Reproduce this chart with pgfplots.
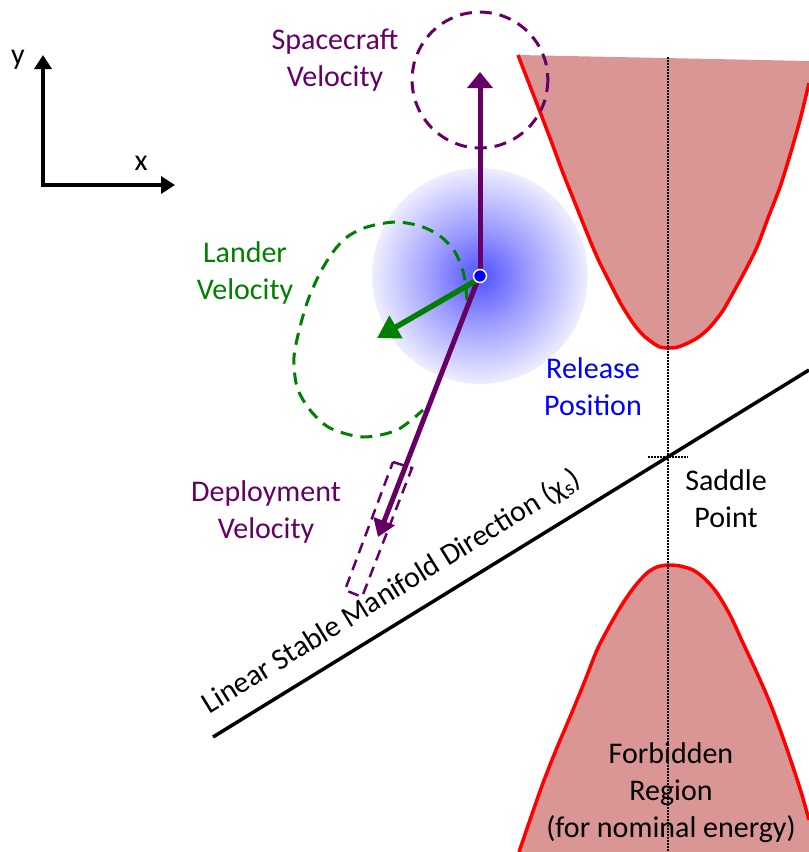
\documentclass[border=0pt]{standalone}
\usepackage{pgfplots}
\pgfplotsset{compat=1.18}
\usepackage{fontspec}
\setmainfont{Carlito}
\usetikzlibrary{arrows.meta}
\definecolor{purp}{RGB}{102,0,102}
\definecolor{grn}{RGB}{0,128,0}
\definecolor{fillred}{RGB}{217,150,148}
\definecolor{bluetxt}{RGB}{0,0,255}
\definecolor{glowc}{RGB}{80,80,255}
\definecolor{glowm}{RGB}{155,155,255}
\definecolor{glowe}{RGB}{238,238,255}
\pgfdeclareradialshading{glow}{\pgfpoint{0bp}{0bp}}{color(0bp)=(glowc); color(11bp)=(glowm); color(25bp)=(glowe); color(50bp)=(glowe)}
\begin{document}
\begin{tikzpicture}[every node/.style={font=\fontsize{30}{37}\selectfont}]
\begin{axis}[width=809pt,height=852pt,scale only axis,
  xmin=0,xmax=809,ymin=0,ymax=852,y dir=reverse,
  axis lines=none, clip=false]
% upper forbidden region
\addplot[draw=none, fill=fillred] coordinates {
(518,55) (809,61) (809,83) (800,120) (790,155) (780,187) (768,218) (757,247) (745,271) (733,293) (722,312) (710,327) (700,336) (690,342) (678,347) (668,348) (660,347) (653,343) (643,335) (633,323) (621,304) (610,283) (598,259) (587,233) (575,203) (563,173) (553,146) (542,117) (530,86) (518,55)} --cycle;
\addplot[red, line width=3.5pt, smooth, line join=round] coordinates {
(518,55) (530,86) (542,117) (553,146) (563,173) (575,203) (587,233) (598,259) (610,283) (621,304) (633,323) (643,335) (653,343) (660,347) (668,348) (678,347) (690,342) (700,336) (710,327) (722,312) (733,293) (745,271) (757,247) (768,218) (780,187) (790,155) (800,120) (809,83)};
% lower forbidden region
\addplot[draw=none, fill=fillred] coordinates {
(519,852) (531,817) (543,783) (556,750) (570,717) (584,683) (597,650) (610,625) (623,603) (635,586) (647,573) (657,567) (668,565) (680,566) (693,570) (705,579) (717,593) (730,615) (743,643) (757,673) (770,703) (782,735) (793,767) (802,795) (809,820) (809,852)} --cycle;
\addplot[red, line width=3.5pt, smooth, line join=round] coordinates {
(519,852) (531,817) (543,783) (556,750) (570,717) (584,683) (597,650) (610,625) (623,603) (635,586) (647,573) (657,567) (668,565) (680,566) (693,570) (705,579) (717,593) (730,615) (743,643) (757,673) (770,703) (782,735) (793,767) (802,795) (809,820)};
% dotted guides
\addplot[black, line width=1.5pt, dash pattern=on 1.5pt off 1.5pt] coordinates {(668,57) (668,852)};
\addplot[black, line width=1.5pt, dash pattern=on 1.5pt off 1.5pt] coordinates {(648,457) (688,457)};
% manifold line
\addplot[black, line width=3.5pt] coordinates {(213,737) (809,370)};
% blue glow
\addplot[draw=none, shade, shading=glow, smooth] coordinates {
(588,276) (584.3,304) (573.5,330) (556.4,352.4) (534,369.5) (508,380.3) (480,384) (452,380.3) (426,369.5) (403.6,352.4) (386.5,330) (375.7,304) (372,276) (375.7,248) (386.5,222) (403.6,199.6) (426,182.5) (452,171.7) (480,168) (508,171.7) (534,182.5) (556.4,199.6) (573.5,222) (584.3,248) (588,276)} --cycle;
% spacecraft dashed circle
\addplot[purp, line width=3pt, dash pattern=on 12pt off 8pt, smooth] coordinates {
(548,80) (545.7,97.6) (538.9,114) (528.1,128.1) (514,138.9) (497.6,145.7) (480,148) (462.4,145.7) (446,138.9) (431.9,128.1) (421.1,114) (414.3,97.6) (412,80) (414.3,62.4) (421.1,46) (431.9,31.9) (446,21.1) (462.4,14.3) (480,12) (497.6,14.3) (514,21.1) (528.1,31.9) (538.9,46) (545.7,62.4) (548,80)};
% lander dashed loop
\addplot[grn, line width=3pt, dash pattern=on 12pt off 8pt, smooth] coordinates {
(467,300) (464,275) (455,252) (440,236) (420,226) (395,222) (367,227) (347,237) (333,252) (320,273) (308,300) (300,327) (294,357) (297,387) (310,410) (330,428) (363,437) (397,430) (423,410)};
% deployment dashed box
\addplot[purp, line width=2.5pt, dash pattern=on 11pt off 7pt] coordinates {
(393,462) (412,468) (362,597) (345,590) (393,462)};
% arrows
\addplot[purp, line width=5pt, -{Triangle[length=16pt,width=25pt]}] coordinates {(480,276) (480,72)};
\addplot[purp, line width=5pt, -{Triangle[length=17pt,width=22pt]}] coordinates {(477,282) (378,537)};
\addplot[grn, line width=5.5pt, -{Triangle[length=22pt,width=25pt]}] coordinates {(477,280) (377,338)};
% release point
\addplot[only marks, mark=*, mark size=6.5pt, mark options={fill=blue, draw=white, line width=1.5pt}] coordinates {(480,276)};
% xy frame
\addplot[black, line width=3.5pt, -{Triangle[length=14pt,width=17pt]}] coordinates {(43,185) (43,55)};
\addplot[black, line width=3.5pt, -{Triangle[length=14pt,width=17pt]}] coordinates {(41.25,185) (175,185)};
% labels
\node at (axis cs:18,60) {y};
\node at (axis cs:141,163) {x};
\node[text=purp, align=center] at (axis cs:335,60) {Spacecraft\\Velocity};
\node[text=grn, align=center] at (axis cs:245,273) {Lander\\Velocity};
\node[text=bluetxt, align=center] at (axis cs:593,387) {Release\\Position};
\node[text=purp, align=center] at (axis cs:266,512) {Deployment\\Velocity};
\node[align=center] at (axis cs:726,499) {Saddle\\Point};
\node[align=center] at (axis cs:671,793) {Forbidden\\Region\\(for nominal energy)};
\node[rotate=31.7, anchor=base] at (axis cs:396,599) {Linear Stable Manifold Direction (χ\textsubscript{s})};
\coordinate (bbA) at (rel axis cs:0,0);
\coordinate (bbB) at (rel axis cs:1,1);
\end{axis}
\pgfresetboundingbox
\path[use as bounding box] (bbA) rectangle (bbB);
\end{tikzpicture}
\end{document}
